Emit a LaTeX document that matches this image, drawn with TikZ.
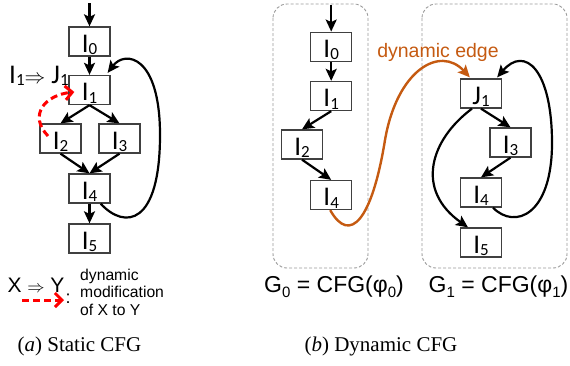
\documentclass[tikz,border=0pt]{standalone}
\usepackage{fontspec}
\setmainfont{Liberation Serif}
\newfontfamily\carl{Carlito}
\newfontfamily\arl{Liberation Sans}
\usetikzlibrary{arrows.meta,calc}
\definecolor{orng}{HTML}{C55A11}
\definecolor{bordc}{HTML}{404040}
\definecolor{grpc}{HTML}{9A9A9A}
\definecolor{redd}{HTML}{FF0000}
\newcommand\nsub[1]{\raisebox{-2.5pt}{\fontsize{17}{17}\selectfont #1}}
\newcommand\gsub[1]{\raisebox{-5pt}{\fontsize{15}{15}\selectfont #1}}
\begin{document}
\begin{tikzpicture}[x=1pt,y=-1pt,
  blk/.style={draw=bordc, line width=1.3pt, minimum width=41pt, minimum height=29pt,
    inner sep=0pt, text height=21pt, text depth=0pt, font=\carl\fontsize{27}{27}\selectfont},
  edge/.style={line width=2.2pt, -{Stealth[length=12pt,width=11pt,inset=2.5pt]}},
  dynedge/.style={line width=2.4pt, draw=orng, -{Stealth[length=12pt,width=11pt,inset=2.5pt]}},
  reddash/.style={line width=3pt, draw=redd, dash pattern=on 7pt off 4pt,
    -{Straight Barb[length=7pt,width=14pt]}},
  grp/.style={draw=grpc, line width=0.9pt, dash pattern=on 3pt off 2pt, rounded corners=14pt},
  lbl/.style={inner sep=0pt, anchor=base},
]
\useasboundingbox (0,0) rectangle (570,365);

% ---------- (a) static CFG ----------
\coordinate (Lin) at (89.5,3);
\node[blk] (L0) at (89.5,41.5) {I\nsub{0}};
\node[blk] (L1) at (89.5,90) {I\nsub{1}};
\node[blk] (L2) at (60.5,138.5) {I\nsub{2}};
\node[blk] (L3) at (119.5,138.5) {I\nsub{3}};
\node[blk] (L4) at (89.5,188.5) {I\nsub{4}};
\node[blk] (L5) at (89.5,238.5) {I\nsub{5}};

\draw[edge] (Lin) -- (L0.north);
\draw[edge] (L0) -- (L1);
\draw[edge] (L1.south) -- (L2.north);
\draw[edge] (L1.south) -- (L3.north);
\draw[edge] (L2.south) -- (L4.north);
\draw[edge] (L3.south) -- (L4.north);
\draw[edge] (L4) -- (L5);
\draw[edge] ($(L4.south east)+(-10,0)$) .. controls (125,230) and (160,225) .. (160,135)
  .. controls (160,55) and (125,50) .. ($(L1.north east)+(-3,-2)$);
\draw[reddash] ($(L2.center)+(-12.5,-2.5)$) .. controls (28,115) and (45,95) .. ($(L1.west)+(6,2)$);

\node[lbl, anchor=base west, font=\carl\fontsize{27}{27}\selectfont] (mod) at (9,83)
  {I\nsub{1}{\fontsize{20}{20}\selectfont$\Rightarrow$} J\nsub{1}};

% legend
\node[lbl, font=\arl\fontsize{21}{21}\selectfont] (xy) at (36,292)
  {X {\fontsize{18}{18}\selectfont$\Rightarrow$} Y};
\coordinate (la) at (22,300);
\coordinate (lb) at (64,300);
\draw[reddash] (la) -- (lb);
\node[lbl, font=\arl\fontsize{18}{18}\selectfont] (colon) at (68,303) {:};
\node[lbl, anchor=base west, font=\arl\fontsize{15.7}{16}\selectfont] (t1) at (80,280) {dynamic};
\node[lbl, anchor=base west, font=\arl\fontsize{15.7}{16}\selectfont] (t2) at (80,297.5) {modification};
\node[lbl, anchor=base west, font=\arl\fontsize{15.7}{16}\selectfont] (t3) at (80,315) {of X to Y};

\node[lbl, font=\fontsize{21}{21}\selectfont] (capa) at (79.5,351) {(\textit{a}) Static CFG};

% ---------- (b) dynamic CFG ----------
\draw[grp] (273,4) rectangle (368,268);
\draw[grp] (422,4) rectangle (567,268);

\coordinate (Rin) at (331.2,5);
\node[blk] (R0) at (331.2,46.7) {I\nsub{0}};
\node[blk] (R1) at (331.2,96) {I\nsub{1}};
\node[blk] (R2) at (302,144.5) {I\nsub{2}};
\node[blk] (R4) at (331.2,195) {I\nsub{4}};

\node[blk] (J1) at (481,93.5) {J\nsub{1}};
\node[blk] (S3) at (510.5,142.5) {I\nsub{3}};
\node[blk] (S4) at (481,192.5) {I\nsub{4}};
\node[blk] (S5) at (481,242.5) {I\nsub{5}};

\draw[edge] (Rin) -- (R0.north);
\draw[edge] (R0) -- (R1);
\draw[edge] (R1.south) -- (R2.north);
\draw[edge] (R2.south) -- (R4.north);

\draw[edge] (J1.south) -- (S3.north);
\draw[edge] (S3.south) -- (S4.north);
\draw[edge] ($(J1.south)+(-9,0)$) .. controls (430,140) and (415,190) .. ($(S5.north)+(-13,0)$);
\draw[edge] ($(S4.south)+(12,0)$) .. controls (515,230) and (552,215) .. (552,143)
  .. controls (552,70) and (525,45) .. ($(J1.north east)+(-5,-1)$);

\draw[dynedge] ($(R4.south)+(-1,0)$) .. controls (350,245) and (372,220) .. (385,140)
  .. controls (397,70) and (440,45) .. ($(J1.north west)+(10,-1)$);
\node[lbl, font=\arl\fontsize{19.5}{20}\selectfont, text=orng] (dyn) at (438,57) {dynamic edge};

\node[lbl, font=\arl\fontsize{23}{23}\selectfont] (g0) at (334,292) {G\gsub{0} = CFG(φ\gsub{0})};
\node[lbl, font=\arl\fontsize{23}{23}\selectfont] (g1) at (498.5,292) {G\gsub{1} = CFG(φ\gsub{1})};

\node[lbl, font=\fontsize{21}{21}\selectfont] (capb) at (381,351) {(\textit{b}) Dynamic CFG};
\end{tikzpicture}
\end{document}
